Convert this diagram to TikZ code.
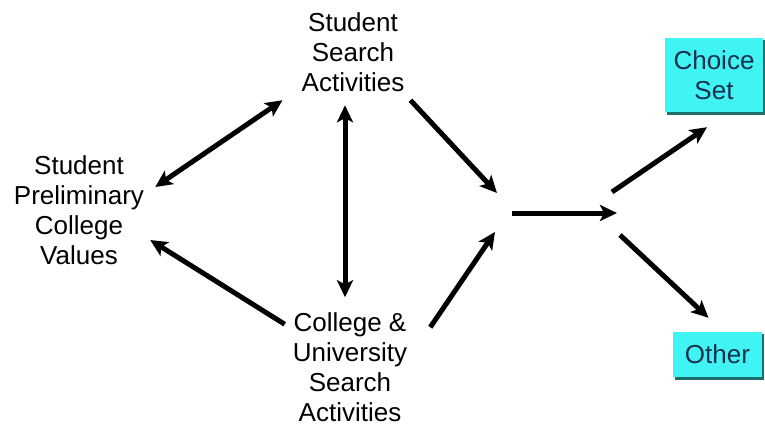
\documentclass[tikz,border=0pt]{standalone}
\usepackage{fontspec}
\setmainfont{Liberation Sans}
\usetikzlibrary{arrows.meta}
\definecolor{boxcyan}{RGB}{64,244,244}
\definecolor{boxshade}{RGB}{30,110,110}
\definecolor{boxtext}{RGB}{24,48,78}

\begin{document}
\begin{tikzpicture}[x=1pt,y=-1pt,
  lbl/.style={align=center,inner sep=0pt,font=\fontsize{26}{30}\selectfont},
  setbox/.style={lbl,fill=boxcyan,text=boxtext},
  arr/.style={line width=5pt,-{Stealth[length=17pt,width=16pt,inset=4pt]}},
  dbl/.style={line width=5pt,{Stealth[length=17pt,width=16pt,inset=4pt]}-{Stealth[length=17pt,width=16pt,inset=4pt]}}]
\useasboundingbox[fill=white] (0,0) rectangle (765,426);

% the three activity/value labels
\node[lbl] (ssa) at (353,52.5) {Student\\Search\\Activities};
\node[lbl] (spcv) at (79,210) {Student\\Preliminary\\College\\Values};
\node[lbl] (cusa) at (350,367) {College \&\\University\\Search\\Activities};

% outcome boxes, with a dark edge below and to the right
\fill[boxshade] (667,40) rectangle (765,115);
\fill[boxshade] (675,334) rectangle (764,380);
\node[setbox,minimum width=98pt,minimum height=74pt] (choice) at (714,75) {Choice\\Set};
\node[setbox,minimum width=89pt,minimum height=45pt] (other) at (717.5,354.5) {Other};

\coordinate (join) at (505,213);
\coordinate (fork) at (622,213);

\draw[dbl] ([shift={(11,-23)}]spcv.east) -- ([shift={(-19,8)}]ssa.south west);
\draw[dbl] ([shift={(-8,13)}]ssa.south) -- ([shift={(-5,-15)}]cusa.north);
\draw[arr] ([shift={(-8,12)}]cusa.north west) -- ([shift={(6,30)}]spcv.east);
\draw[arr] ([shift={(6,8)}]ssa.south east) -- ([shift={(-8,-20)}]join);
\draw[arr] ([shift={(23,15)}]cusa.north east) -- ([shift={(-10,19)}]join);
\draw[arr] ([shift={(7,0)}]join) -- ([shift={(-5,0)}]fork);
\draw[arr] ([shift={(-10,-21)}]fork) -- ([shift={(-7,15)}]choice.south);
\draw[arr] ([shift={(-2,22)}]fork) -- ([shift={(-9,-14)}]other.north);

\end{tikzpicture}
\end{document}
